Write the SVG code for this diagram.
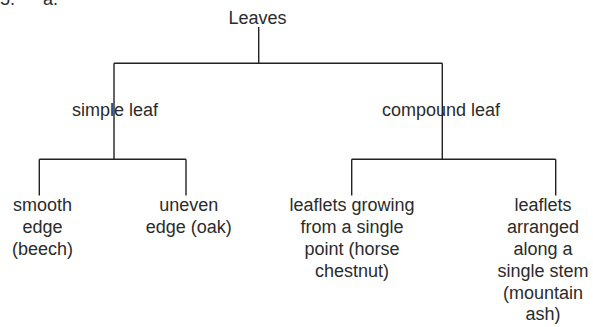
<svg xmlns="http://www.w3.org/2000/svg" width="593" height="327" viewBox="0 0 593 327">
<style>
text{font-family:"Liberation Sans",Arial,sans-serif;font-size:18px;fill:#2b2b2b;text-anchor:middle}
.c{stroke:#222;stroke-width:1.4;fill:none}
</style>
<rect width="593" height="327" fill="#fff"/>
<g id="header">
<text x="0" y="5" style="text-anchor:start">5.</text>
<text x="43" y="5" style="text-anchor:start">a.</text>
</g>
<g id="connectors">
<path class="c" d="M258.7,27V63.3M114,63.3H442.3M114,63.3V159.3M442.3,63.3V159.3M39.3,159.3H186M39.3,159.3V195.5M186,159.3V195.5M351.7,159.3H555.7M351.7,159.3V195.5M555.7,159.3V195.5"/>
</g>
<g id="leaves"><text x="257.5" y="24">Leaves</text></g>
<g id="simple"><text x="115" y="115.7">simple leaf</text></g>
<g id="compound"><text x="441" y="115.7">compound leaf</text></g>
<g id="smooth"><text x="42.5" y="210.5">smooth</text><text x="42.5" y="232.5">edge</text><text x="42.5" y="254.5">(beech)</text></g>
<g id="uneven"><text x="188.8" y="210.5">uneven</text><text x="188.8" y="232.5">edge (oak)</text></g>
<g id="single-point"><text x="352" y="210.5">leaflets growing</text><text x="352" y="232.5">from a single</text><text x="352" y="254.5">point (horse</text><text x="352" y="276.5">chestnut)</text></g>
<g id="single-stem"><text x="543" y="210.5">leaflets</text><text x="543" y="232.5">arranged</text><text x="543" y="254.5">along a</text><text x="543" y="276.5">single stem</text><text x="543" y="298.5">(mountain</text><text x="543" y="320">ash)</text></g>
</svg>
